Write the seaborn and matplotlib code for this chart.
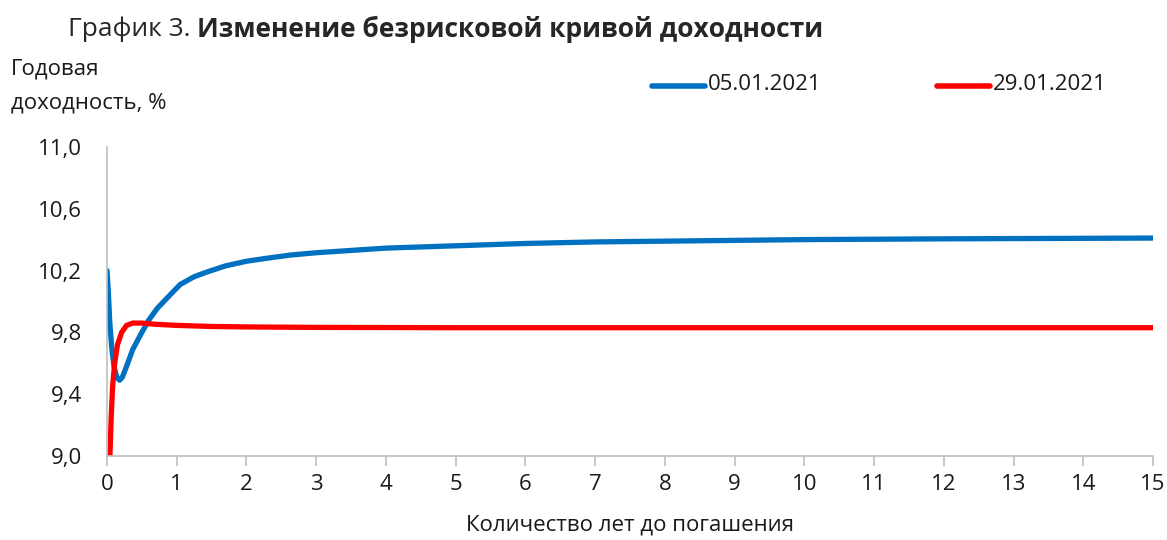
import numpy as np
import pandas as pd
import matplotlib.pyplot as plt
import seaborn as sns

sns.set_theme(style="white")
plt.rcParams['font.family'] = ['Open Sans', 'DejaVu Sans']

# срок до погашения, лет / доходность, %
years_0501 = [0.0, 0.02, 0.04, 0.07, 0.1, 0.14, 0.18, 0.22, 0.28, 0.37, 0.5, 0.6, 0.72, 0.9,
              1.05, 1.25, 1.43, 1.7, 2.0, 2.3, 2.63, 3.0, 3.5, 4.0, 5.0, 6.0, 7.0, 8.0,
              10.0, 12.0, 15.0]
yield_0501 = [10.20, 10.05, 9.86, 9.69, 9.58, 9.51, 9.49, 9.51, 9.58, 9.69, 9.80, 9.88, 9.955,
              10.04, 10.11, 10.16, 10.19, 10.23, 10.26, 10.28, 10.30, 10.315, 10.33, 10.345,
              10.36, 10.375, 10.385, 10.39, 10.40, 10.405, 10.41]

years_2901 = [0.04, 0.06, 0.08, 0.11, 0.15, 0.21, 0.28, 0.37, 0.5, 0.7, 1.0, 1.5, 2.0, 3.0,
              5.0, 8.0, 15.0]
yield_2901 = [8.98, 9.25, 9.45, 9.60, 9.72, 9.80, 9.845, 9.86, 9.86, 9.852, 9.845, 9.838,
              9.835, 9.832, 9.83, 9.83, 9.83]

labels = ['05.01.2021', '29.01.2021']
colors = ['#0070c0', '#ff0000']

df = pd.concat([
    pd.DataFrame({'years': years_0501, 'yield': yield_0501, 'date': labels[0]}),
    pd.DataFrame({'years': years_2901, 'yield': yield_2901, 'date': labels[1]}),
])

fig = plt.figure(figsize=(11.67, 5.4), dpi=100)
ax = fig.add_axes([0.0917, 0.1556, 0.8963, 0.5724])

sns.lineplot(data=df, x='years', y='yield', hue='date', palette=colors, linewidth=3.8,
             ax=ax, legend=False, sort=False)
for ln in ax.lines:
    ln.set_solid_capstyle('round')
    ln.set_solid_joinstyle('round')

ax.set_xlim(0, 15)
ax.set_ylim(9.0, 11.0)
ax.set_xticks(range(0, 16))
yt = [9.0, 9.4, 9.8, 10.2, 10.6, 11.0]
ax.set_yticks(yt)
ax.set_yticklabels([f'{v:.1f}'.replace('.', ',') for v in yt])
ax.tick_params(axis='x', length=7, width=1.2, color='#bfbfbf', direction='out',
               labelsize=16, pad=6, bottom=True, labelcolor='#1a1a1a')
ax.tick_params(axis='y', length=0, labelsize=16, pad=18, labelcolor='#1a1a1a')
for s in ['top', 'right']:
    ax.spines[s].set_visible(False)
for s in ['left', 'bottom']:
    ax.spines[s].set_color('#bfbfbf')
    ax.spines[s].set_linewidth(1.2)
ax.set_xlabel('Количество лет до погашения', fontsize=16, labelpad=14, color='#1a1a1a')
ax.set_ylabel('')

t1 = fig.text(0.058, 0.945, 'График 3.', fontsize=19, va='center', ha='left')
fig.canvas.draw()
bb = t1.get_window_extent().transformed(fig.transFigure.inverted())
fig.text(bb.x1 + 0.006, 0.945, 'Изменение безрисковой кривой доходности', fontsize=19,
         fontweight='bold', va='center', ha='left')
fig.text(0.009, 0.872, 'Годовая', fontsize=16, va='center', ha='left', color='#1a1a1a')
fig.text(0.009, 0.81, 'доходность, %', fontsize=16, va='center', ha='left', color='#1a1a1a')

# легенда
for x0, lab, c in [(0.559, labels[0], colors[0]), (0.803, labels[1], colors[1])]:
    fig.add_artist(plt.Line2D([x0, x0 + 0.045], [0.841, 0.841], color=c, lw=4,
                              solid_capstyle='round', transform=fig.transFigure))
    fig.text(x0 + 0.048, 0.843, lab, fontsize=16, va='center', ha='left', color='#1a1a1a')

fig.savefig('out.png', dpi=100)
